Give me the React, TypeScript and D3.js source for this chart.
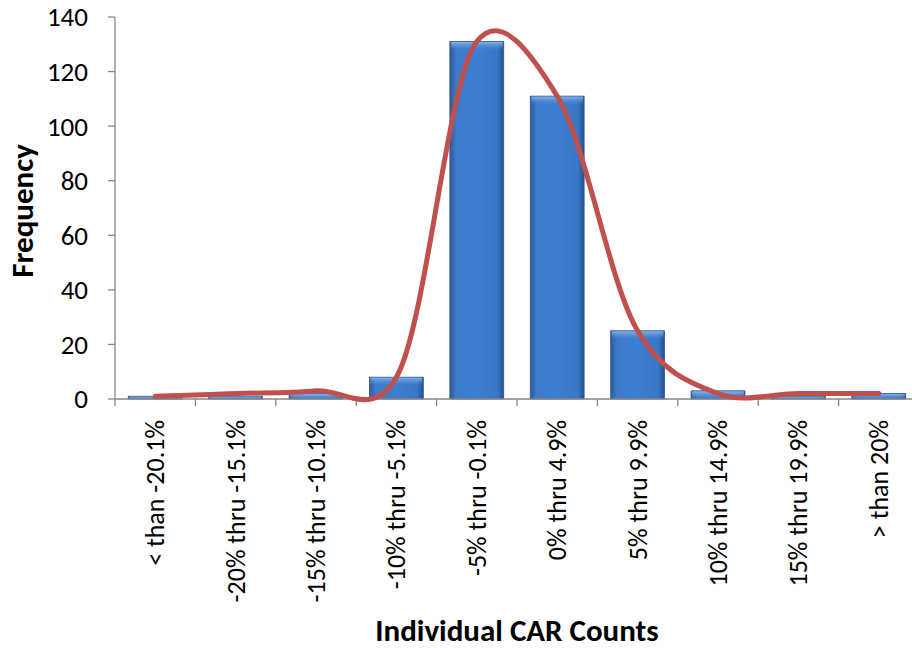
import React from "react";
import * as d3 from "d3";

const categories = [
  "< than -20.1%",
  "-20% thru -15.1%",
  "-15% thru -10.1%",
  "-10% thru -5.1%",
  "-5% thru -0.1%",
  "0% thru 4.9%",
  "5% thru 9.9%",
  "10% thru 14.9%",
  "15% thru 19.9%",
  "> than 20%",
];
const barValues = [1, 1, 2, 8, 131, 111, 25, 3, 1, 2];
const curveValues = [1, 2, 3, 8, 131, 111, 25, 2, 2, 2];
const yTicks = [0, 20, 40, 60, 80, 100, 120, 140];

const W = 912;
const H = 648;
const left = 115;
const right = 919;
const top = 17;
const bottom = 399;
const FONT = "Carlito, Lato, 'Open Sans', sans-serif";

export default function App() {
  const x = d3.scaleBand<string>().domain(categories).range([left, right]).paddingInner(0.33).paddingOuter(0.165);
  const xc = d3.scaleBand<string>().domain(categories).range([left, right]);
  const y = d3.scaleLinear().domain([0, 140]).range([bottom, top]);
  const line = d3
    .line<number>()
    .x((_, i) => (xc(categories[i]) as number) + xc.bandwidth() / 2)
    .y((d) => y(d))
    .curve(d3.curveCatmullRom.alpha(0.15));
  const axisColor = "#868686";
  return (
    <svg width={W} height={H} style={{ position: "absolute", left: 0, top: 0, background: "#fff" }}>
      <defs>
        <linearGradient id="barG" x1="0" x2="1" y1="0" y2="0">
          <stop offset="0" stopColor="#2a5a96" />
          <stop offset="0.12" stopColor="#3f7ccb" />
          <stop offset="0.5" stopColor="#3d7fd3" />
          <stop offset="0.88" stopColor="#3a78c6" />
          <stop offset="1" stopColor="#24508a" />
        </linearGradient>
        <linearGradient id="barTop" x1="0" x2="0" y1="0" y2="1">
          <stop offset="0" stopColor="#8fb8ea" stopOpacity="0.9" />
          <stop offset="1" stopColor="#4f8ad6" stopOpacity="0" />
        </linearGradient>
        <clipPath id="clipAll">
          <rect x={0} y={0} width={W} height={H} />
        </clipPath>
      </defs>
      <g clipPath="url(#clipAll)">
        {categories.map((c, i) => {
          const bx = x(c) as number;
          const bw = x.bandwidth();
          const by = y(barValues[i]);
          const bh = bottom - by;
          return (
            <g key={c}>
              <rect x={bx} y={by} width={bw} height={bh} fill="url(#barG)" stroke="#2b5894" strokeWidth={0.8} />
              <rect x={bx + 1} y={by + 0.5} width={bw - 2} height={Math.min(8, bh)} fill="url(#barTop)" />
            </g>
          );
        })}
        <line x1={left} x2={left} y1={top} y2={bottom} stroke={axisColor} strokeWidth={1.3} />
        <line x1={left} x2={right} y1={bottom} y2={bottom} stroke={axisColor} strokeWidth={1.3} />
        {yTicks.map((t) => (
          <g key={t}>
            <line x1={left - 7} x2={left} y1={y(t)} y2={y(t)} stroke={axisColor} strokeWidth={1.3} />
            <text x={88} y={y(t)} dy="0.35em" textAnchor="end" fontFamily={FONT} fontSize={27} fill="#000">
              {t}
            </text>
          </g>
        ))}
        {d3.range(categories.length + 1).map((i) => {
          const tx = left + i * xc.step();
          return <line key={i} x1={tx} x2={tx} y1={bottom} y2={bottom + 7} stroke={axisColor} strokeWidth={1.3} />;
        })}
        {categories.map((c) => {
          const cx = (xc(c) as number) + xc.bandwidth() / 2;
          return (
            <text
              key={c}
              transform={`translate(${cx + 9},${420}) rotate(-90)`}
              textAnchor="end"
              fontFamily={FONT}
              fontSize={26}
              fill="#000"
            >
              {c}
            </text>
          );
        })}
        <path d={line(curveValues) || ""} fill="none" stroke="#c0504d" strokeWidth={5} strokeLinecap="round" />
        <text
          transform={`translate(33,211) rotate(-90)`}
          textAnchor="middle"
          fontFamily={FONT}
          fontSize={31}
          fontWeight="bold"
          fill="#000"
        >
          Frequency
        </text>
        <text x={517} y={641} textAnchor="middle" fontFamily={FONT} fontSize={31} fontWeight="bold" fill="#000">
          Individual CAR Counts
        </text>
      </g>
    </svg>
  );
}
